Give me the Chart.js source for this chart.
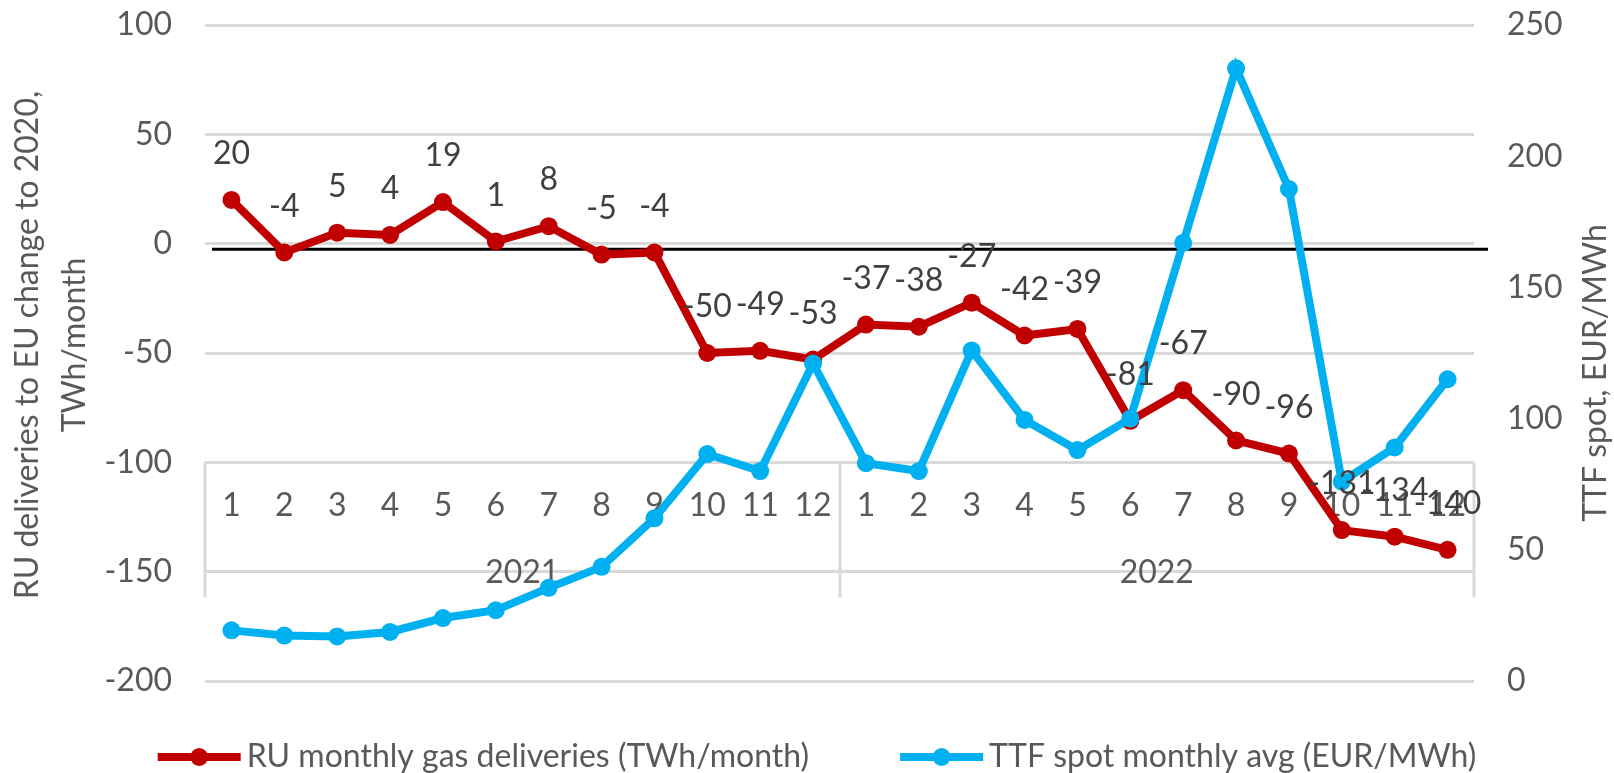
<!DOCTYPE html>
<html>
<head>
<meta charset="utf-8">
<script src="https://cdn.jsdelivr.net/npm/chart.js@4.4.1/dist/chart.umd.min.js"></script>
<style>
  html, body { margin: 0; padding: 0; background: #fff; }
  #wrap { width: 1614px; height: 773px; position: relative; }
</style>
</head>
<body>
<div id="wrap"><canvas id="chart"></canvas></div>
<script>
// month of year, two years side by side
const months = ["1", "2", "3", "4", "5", "6", "7", "8", "9", "10", "11", "12",
                "1", "2", "3", "4", "5", "6", "7", "8", "9", "10", "11", "12"];
const years = ["2021", "2022"];

// RU deliveries to EU, change vs 2020 (TWh/month)
const ruDelta = [20, -4, 5, 4, 19, 1, 8, -5, -4, -50, -49, -53,
                 -37, -38, -27, -42, -39, -81, -67, -90, -96, -131, -134, -140];
// TTF spot monthly average (EUR/MWh)
const ttfSpot = [19.3, 17.3, 17, 18.7, 24, 27, 35.5, 43.5, 62, 86.5, 80, 121,
                 83, 80, 126, 99.5, 88, 100, 167, 233.5, 187.5, 76, 89, 115];

const seriesNames = ["RU monthly gas deliveries (TWh/month)", "TTF spot monthly avg (EUR/MWh)"];
const leftTitle = ["RU deliveries to EU change to 2020,", "TWh/month"];
const rightTitle = "TTF spot, EUR/MWh";
const refLine = -2.5; // the drawn "zero" line sits a bit under 0

const FONT = "Lato";
const FSIZE = 32;
const GREY = "#595959";
const DARK = "#404040";
const RED = "#C00000";
const BLUE = "#00B0F0";
const GRID = "#D9D9D9";

// category axis sits on the -100 line, with month and year rows
const categoryAxis = {
  id: "categoryAxis",
  beforeDatasetsDraw(chart) {
    const { ctx, chartArea, scales } = chart;
    const x = scales.x, y = scales.y;
    const axisY = y.getPixelForValue(-100);
    const step = x.getPixelForValue(1) - x.getPixelForValue(0);
    const perYear = months.length / years.length;
    ctx.save();

    const ry = y.getPixelForValue(refLine);
    ctx.strokeStyle = "#000";
    ctx.lineWidth = 3;
    ctx.beginPath();
    ctx.moveTo(chartArea.left + 7, ry);
    ctx.lineTo(chartArea.right + 14, ry);
    ctx.stroke();

    ctx.strokeStyle = GRID;
    ctx.lineWidth = 3;
    for (let g = 0; g <= years.length; g++) {
      const px = Math.round(x.getPixelForValue(0) - step / 2 + g * perYear * step);
      ctx.beginPath();
      ctx.moveTo(px, axisY);
      ctx.lineTo(px, axisY + 135);
      ctx.stroke();
    }

    ctx.font = `${FSIZE}px ${FONT}`;
    ctx.fillStyle = GREY;
    ctx.textAlign = "center";
    ctx.textBaseline = "middle";
    months.forEach((m, i) => ctx.fillText(m, x.getPixelForValue(i), axisY + 43));
    years.forEach((yr, g) => {
      const cx = x.getPixelForValue(g * perYear) - step / 2 + perYear * step / 2;
      ctx.fillText(yr, cx, axisY + 110);
    });
    ctx.restore();
  }
};

const valueLabels = {
  id: "valueLabels",
  afterDatasetsDraw(chart) {
    const { ctx } = chart;
    const meta = chart.getDatasetMeta(0);
    ctx.save();
    ctx.font = `${FSIZE}px ${FONT}`;
    ctx.fillStyle = DARK;
    ctx.textAlign = "center";
    ctx.textBaseline = "middle";
    meta.data.forEach((pt, i) => {
      ctx.fillText(String(ruDelta[i]), pt.x, pt.y - 46);
    });
    ctx.restore();
  }
};

const titlesAndLegend = {
  id: "titlesAndLegend",
  afterDraw(chart) {
    const { ctx } = chart;
    ctx.save();
    ctx.font = `${FSIZE}px ${FONT}`;
    ctx.fillStyle = GREY;
    ctx.textAlign = "center";
    ctx.textBaseline = "middle";

    // left axis title, two lines
    ctx.save();
    ctx.translate(0, 345);
    ctx.rotate(-Math.PI / 2);
    ctx.fillText(leftTitle[0], 0, 28);
    ctx.fillText(leftTitle[1], 0, 75);
    ctx.restore();

    // right axis title, reads bottom to top
    ctx.save();
    ctx.translate(1596, 373);
    ctx.rotate(-Math.PI / 2);
    ctx.fillText(rightTitle, 0, 0);
    ctx.restore();

    // legend: line with marker, then the name
    const lineLen = 83, textGap = 6, itemGap = 91, ly = 757;
    const widths = chart.data.datasets.map(d => lineLen + textGap + ctx.measureText(d.label).width);
    const total = widths.reduce((a, b) => a + b, 0) + itemGap * (widths.length - 1);
    let lx = (chart.width - total) / 2 + 10;
    ctx.textAlign = "left";
    chart.data.datasets.forEach((d, i) => {
      ctx.strokeStyle = d.borderColor;
      ctx.lineWidth = 8;
      ctx.beginPath();
      ctx.moveTo(lx, ly);
      ctx.lineTo(lx + lineLen, ly);
      ctx.stroke();
      ctx.fillStyle = d.borderColor;
      ctx.beginPath();
      ctx.arc(lx + lineLen / 2, ly, 9, 0, Math.PI * 2);
      ctx.fill();
      ctx.fillStyle = GREY;
      ctx.fillText(d.label, lx + lineLen + textGap, ly);
      lx += widths[i] + itemGap;
    });
    ctx.restore();
  }
};

const tickFont = { family: FONT, size: FSIZE };

// fixed side widths; drop the label overflow padding so the plot keeps its height
function fixSide(width) {
  return (s) => {
    s.width = width;
    s.paddingTop = 0;
    s.paddingBottom = 0;
  };
}

new Chart(document.getElementById("chart"), {
  type: "line",
  data: {
    labels: months,
    datasets: [
      {
        label: seriesNames[0],
        data: ruDelta,
        yAxisID: "y",
        borderColor: RED,
        backgroundColor: RED,
        borderWidth: 8,
        pointRadius: 9,
        pointBorderWidth: 0,
        order: 1,
      },
      {
        label: seriesNames[1],
        data: ttfSpot,
        yAxisID: "y1",
        borderColor: BLUE,
        backgroundColor: BLUE,
        borderWidth: 8,
        pointRadius: 9,
        pointBorderWidth: 0,
        order: 0,
      },
    ],
  },
  options: {
    responsive: true,
    maintainAspectRatio: false,
    animation: false,
    devicePixelRatio: 1,
    layout: { padding: { top: 25, bottom: 92, left: 0, right: 0 } },
    plugins: {
      legend: { display: false },
      tooltip: { enabled: false },
    },
    elements: { line: { tension: 0 } },
    scales: {
      x: {
        type: "category",
        display: false,
        offset: true,
      },
      y: {
        position: "left",
        min: -200,
        max: 100,
        ticks: { stepSize: 50, font: tickFont, color: GREY, padding: 33 },
        grid: { color: GRID, lineWidth: 3, drawTicks: false },
        border: { display: false },
        afterFit: fixSide(205),
      },
      y1: {
        position: "right",
        min: 0,
        max: 250,
        ticks: { stepSize: 50, font: tickFont, color: GREY, padding: 33 },
        grid: { display: false, drawTicks: false },
        border: { display: false },
        afterFit: fixSide(140),
      },
    },
  },
  plugins: [categoryAxis, valueLabels, titlesAndLegend],
});
</script>
</body>
</html>
